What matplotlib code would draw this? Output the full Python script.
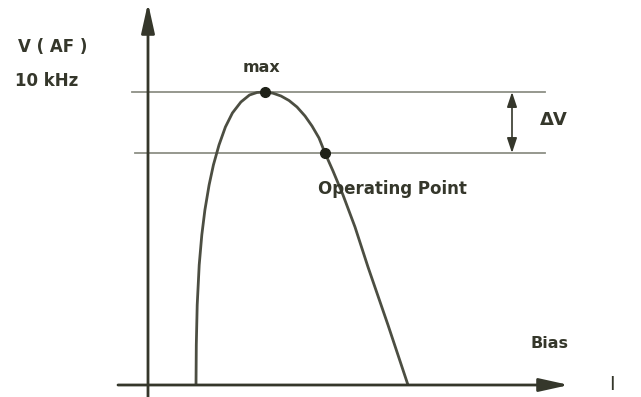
import matplotlib
matplotlib.use("Agg")
import matplotlib.pyplot as plt

# V(AF) at 10 kHz against bias current, origin at the axis crossing
bias = [48, 48.3, 49.2, 51.2, 53.8, 56.9, 61.1, 65.4, 71, 77.4, 84.4, 92.9,
        101.5, 109, 117, 125, 133, 141, 149, 157, 164, 171, 177, 185, 195, 207,
        220, 240, 260]
volt = [0, 40, 80, 120, 150, 175, 200, 220, 240, 258, 272, 283, 290, 292.5,
        293, 291.8, 289, 284.5, 278, 269, 259, 247, 232, 214, 190, 158, 118, 60, 0]

v_max = 293
v_op = 232
bias_max = 117
bias_op = 177

INK = "#35372b"
CURVE = "#4c4e42"
GRID = "#8e9086"

plt.rcParams["font.family"] = ["DejaVu Sans"]

fig = plt.figure(figsize=(6.41, 3.97), dpi=100)
ax = fig.add_axes([0, 0, 1, 1])
ax.set_xlim(-148, 493)
ax.set_ylim(-12, 385)
ax.axis("off")

# axes with arrow heads
ax.annotate("", xy=(0, 382), xytext=(0, -12),
            arrowprops=dict(arrowstyle="-|>,head_length=1.8,head_width=0.4",
                            color=INK, lw=2, shrinkA=0, shrinkB=0))
ax.annotate("", xy=(421, 0), xytext=(-30, 0),
            arrowprops=dict(arrowstyle="-|>,head_length=1.8,head_width=0.4",
                            color=INK, lw=2, shrinkA=0, shrinkB=0))

# reference levels
ax.plot([-16, 397], [v_max, v_max], color=GRID, lw=1.3)
ax.plot([-13, 397], [v_op, v_op], color=GRID, lw=1.3)

# delta V marker
ax.annotate("", xy=(364, v_max), xytext=(364, v_op),
            arrowprops=dict(arrowstyle="<|-|>,head_length=0.9,head_width=0.3",
                            color=INK, lw=1.2, shrinkA=0, shrinkB=0))

ax.plot(bias, volt, color=CURVE, lw=2, solid_capstyle="butt", solid_joinstyle="round")
ax.plot([bias_max, bias_op], [v_max, v_op], "o", color="#1f2118", ms=7)

ax.text(-130, 338, "V ( AF )", fontsize=12, fontweight="bold", color=INK, va="center")
ax.text(-133, 304, "10 kHz", fontsize=12, fontweight="bold", color=INK, va="center")
ax.text(114, 318, "max", fontsize=11.5, fontweight="bold", color=INK, ha="center", va="center")
ax.text(392, 265, "ΔV", fontsize=13, fontweight="bold", color=INK, va="center")
ax.text(170, 196, "Operating Point", fontsize=12, fontweight="bold", color=INK, va="center")
ax.text(382, 42, "Bias", fontsize=11.5, fontweight="bold", color=INK, va="center")
ax.text(461, 1, "I", fontsize=14, color=INK, va="center")

fig.savefig("out.png", dpi=100)
